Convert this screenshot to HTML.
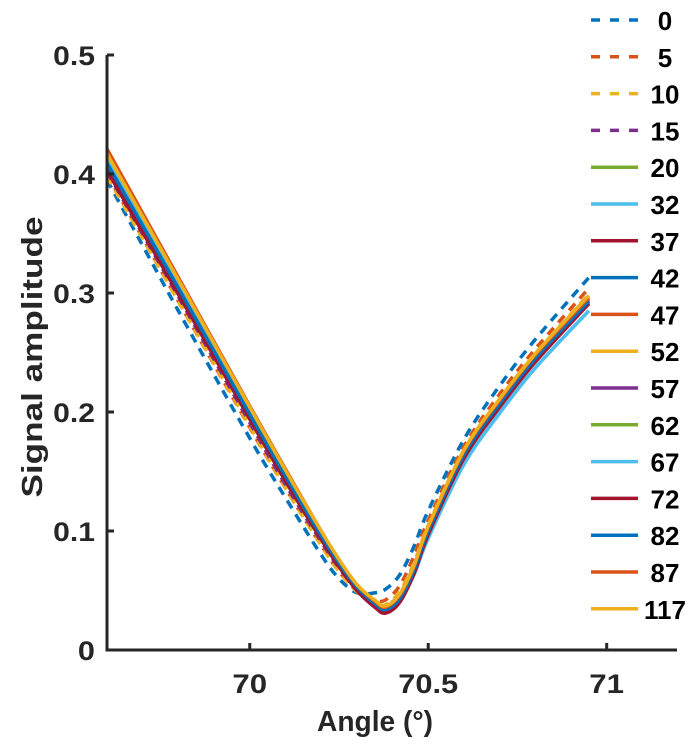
<!DOCTYPE html>
<html><head><meta charset="utf-8"><style>
html,body{margin:0;padding:0;background:#fff;}
svg{display:block;font-family:"Liberation Sans",Arial,sans-serif;font-weight:bold;}
</style></head><body>
<svg id="chart" width="695" height="748" viewBox="0 0 695 748" xmlns="http://www.w3.org/2000/svg">
<g id="plot"></g>
<g id="axes"></g>
<g id="legend"></g>
<text x="375" y="731" font-size="29" text-anchor="middle" fill="#262626" textLength="116" lengthAdjust="spacingAndGlyphs">Angle (°)</text>
<text transform="translate(42,357) rotate(-90)" font-size="29" text-anchor="middle" fill="#262626" textLength="281" lengthAdjust="spacingAndGlyphs">Signal amplitude</text>
</svg>
<script>
const xs = [69.6, 69.8, 70.0, 70.1, 70.2, 70.25, 70.3, 70.35, 70.38, 70.42, 70.46, 70.5, 70.6, 70.7, 70.8, 70.95];
const labels = ["0","5","10","15","20","32","37","42","47","52","57","62","67","72","82","87","117"];
const colors = ["#0072BD","#D95319","#EDB120","#7E2F8E","#77AC30","#4DBEEE","#A2142F","#0072BD","#D95319","#EDB120","#7E2F8E","#77AC30","#4DBEEE","#A2142F","#0072BD","#D95319","#EDB120"];
const dashed = [true,true,true,true,false,false,false,false,false,false,false,false,false,false,false,false,false];
const s0  = [0.395,0.285,0.178,0.128,0.080,0.060,0.048,0.048,0.051,0.063,0.087,0.117,0.177,0.222,0.261,0.313];
const s5  = [0.400,0.293,0.187,0.136,0.088,0.066,0.050,0.042,0.042,0.054,0.079,0.109,0.171,0.215,0.253,0.304];
const s10 = [0.398,0.293,0.188,0.136,0.088,0.066,0.049,0.040,0.038,0.049,0.073,0.105,0.168,0.211,0.249,0.299];
const s15 = [0.402,0.297,0.191,0.139,0.091,0.069,0.051,0.040,0.037,0.047,0.071,0.103,0.166,0.209,0.247,0.296];
const s20 = [0.405,0.300,0.194,0.142,0.093,0.071,0.052,0.040,0.036,0.046,0.070,0.102,0.165,0.208,0.246,0.294];
const s32 = [0.412,0.305,0.198,0.146,0.096,0.073,0.053,0.040,0.035,0.043,0.064,0.094,0.156,0.199,0.237,0.285];
const s37 = [0.404,0.300,0.195,0.143,0.094,0.071,0.051,0.037,0.032,0.041,0.065,0.098,0.162,0.205,0.243,0.292];
const s42 = [0.408,0.303,0.197,0.145,0.095,0.072,0.052,0.038,0.034,0.043,0.067,0.100,0.164,0.207,0.245,0.292];
const s47 = [0.418,0.311,0.203,0.150,0.099,0.075,0.054,0.040,0.035,0.045,0.069,0.102,0.166,0.209,0.247,0.295];
const s52 = [0.415,0.310,0.203,0.150,0.099,0.075,0.055,0.041,0.036,0.046,0.070,0.103,0.167,0.210,0.248,0.297];
const s57 = [0.407,0.302,0.196,0.144,0.095,0.072,0.052,0.038,0.033,0.042,0.066,0.099,0.163,0.206,0.244,0.291];
const s62 = [0.410,0.304,0.198,0.146,0.096,0.073,0.053,0.039,0.034,0.043,0.067,0.100,0.164,0.207,0.245,0.292];
const s67 = [0.413,0.306,0.199,0.147,0.097,0.073,0.053,0.039,0.034,0.042,0.063,0.094,0.156,0.199,0.237,0.285];
const s72 = [0.403,0.299,0.194,0.142,0.093,0.070,0.050,0.036,0.031,0.040,0.064,0.097,0.161,0.204,0.242,0.291];
const s82 = [0.409,0.304,0.198,0.146,0.096,0.073,0.053,0.039,0.034,0.043,0.067,0.100,0.164,0.207,0.245,0.293];
const s87 = [0.421,0.313,0.205,0.152,0.100,0.076,0.055,0.041,0.036,0.046,0.070,0.103,0.167,0.210,0.248,0.296];
const s117= [0.417,0.311,0.204,0.151,0.100,0.076,0.055,0.042,0.037,0.047,0.071,0.104,0.168,0.211,0.249,0.298];
const series = [s0,s5,s10,s15,s20,s32,s37,s42,s47,s52,s57,s62,s67,s72,s82,s87,s117];
const xTicks = [70, 70.5, 71];
const xTickLabels = ["70","70.5","71"];
const yTicks = [0, 0.1, 0.2, 0.3, 0.4, 0.5];
const yTickLabels = ["0","0.1","0.2","0.3","0.4","0.5"];

const NS = "http://www.w3.org/2000/svg";
const X0 = 107, X1 = 677, Y0 = 650, Y1 = 55;
const xMin = 69.6, xMax = 71.197, yMin = 0, yMax = 0.5;
function sx(v){ return X0 + (v - xMin) / (xMax - xMin) * (X1 - X0); }
function sy(v){ return Y0 - (v - yMin) / (yMax - yMin) * (Y0 - Y1); }
function mk(tag, attrs, parent){ const e = document.createElementNS(NS, tag); for (const k in attrs) e.setAttribute(k, attrs[k]); parent.appendChild(e); return e; }
function labelWidth(s){ let w = 0; for (const c of s) w += (c === ".") ? 7 : 15.5; return w; }

function smoothPath(pts){
  let d = "M" + pts[0][0].toFixed(2) + "," + pts[0][1].toFixed(2);
  for (let i = 0; i < pts.length - 1; i++){
    const p0 = pts[Math.max(i-1,0)], p1 = pts[i], p2 = pts[i+1], p3 = pts[Math.min(i+2, pts.length-1)];
    const c1x = p1[0] + (p2[0]-p0[0])/6, c1y = p1[1] + (p2[1]-p0[1])/6;
    const c2x = p2[0] - (p3[0]-p1[0])/6, c2y = p2[1] - (p3[1]-p1[1])/6;
    d += " C" + c1x.toFixed(2) + "," + c1y.toFixed(2) + " " + c2x.toFixed(2) + "," + c2y.toFixed(2) + " " + p2[0].toFixed(2) + "," + p2[1].toFixed(2);
  }
  return d;
}

const plot = document.getElementById("plot");
series.forEach((vals, i) => {
  const pts = vals.map((v, j) => [sx(xs[j]), sy(v)]);
  const p = mk("path", {d: smoothPath(pts), fill: "none", stroke: colors[i], "stroke-width": 3.5, "stroke-dasharray": dashed[i] ? "9,7" : "none", "stroke-linejoin": "round"}, plot);
  
  
});

const axes = document.getElementById("axes");
const yl = mk("line", {x1: X0, y1: Y1, x2: X0, y2: Y0 + 1.5, stroke: "#262626", "stroke-width": 3}, axes);


const xl = mk("line", {x1: X0 - 1.5, y1: Y0, x2: X1, y2: Y0, stroke: "#262626", "stroke-width": 3}, axes);


xTicks.forEach((t, i) => {
  const tk = mk("line", {x1: sx(t), y1: Y0, x2: sx(t), y2: Y0 - 7, stroke: "#262626", "stroke-width": 3}, axes);
  
  
  const tx = mk("text", {x: sx(t), y: 693, "font-size": 27, "text-anchor": "middle", fill: "#262626", textLength: labelWidth(xTickLabels[i]) * 1.12, lengthAdjust: "spacingAndGlyphs"}, axes);
  tx.textContent = xTickLabels[i];
  
  
});
yTicks.forEach((t, i) => {
  const tk = mk("line", {x1: X0, y1: sy(t), x2: X0 + 7, y2: sy(t), stroke: "#262626", "stroke-width": 3}, axes);
  
  
  const tx = mk("text", {x: 95, y: sy(t) + 10, "font-size": 27, "text-anchor": "end", fill: "#262626", textLength: labelWidth(yTickLabels[i]) * 1.1, lengthAdjust: "spacingAndGlyphs"}, axes);
  tx.textContent = yTickLabels[i];
  
  
});

const legend = document.getElementById("legend");
labels.forEach((lab, i) => {
  const y = 20 + i * 36.8;
  const g = mk("g", {}, legend);
  
  
  mk("line", {x1: 591, y1: y, x2: 638, y2: y, stroke: colors[i], "stroke-width": 3.5, "stroke-dasharray": dashed[i] ? "9,10" : "none"}, g);
  const t = mk("text", {x: 665, y: y + 10, "font-size": 26, "text-anchor": "middle", fill: "#000"}, g);
  t.textContent = lab;
});
</script>
</body></html>
